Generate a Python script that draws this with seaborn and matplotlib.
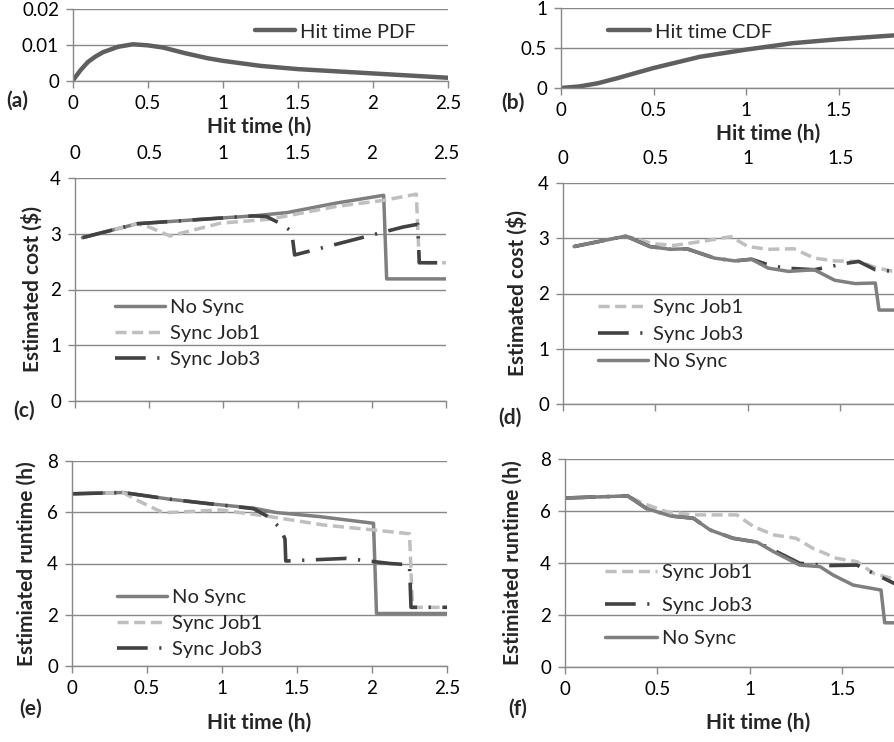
import matplotlib
matplotlib.use("Agg")
import matplotlib.pyplot as plt
import seaborn as sns
import pandas as pd
from matplotlib.ticker import FuncFormatter

# ---------------- data ----------------
pdf_x = [0, 0.05, 0.1, 0.15, 0.2, 0.3, 0.4, 0.5, 0.6, 0.75, 0.9, 1.0, 1.25, 1.5, 1.75, 2.0, 2.25, 2.5]
pdf_y = [0.0002, 0.003, 0.0053, 0.0068, 0.0080, 0.0095, 0.0102, 0.0099, 0.0093, 0.0077, 0.0063,
         0.0056, 0.0042, 0.0033, 0.0027, 0.0021, 0.0015, 0.0009]

cdf_x = [0, 0.1, 0.2, 0.3, 0.5, 0.75, 1.0, 1.25, 1.5, 1.75, 2.0, 2.25, 2.5]
cdf_y = [0, 0.02, 0.06, 0.12, 0.25, 0.39, 0.48, 0.56, 0.61, 0.65, 0.69, 0.72, 0.75]

# (c) estimated cost, left
c_nosync_x = [0.05, 0.42, 0.86, 1.2, 1.43, 1.76, 2.08, 2.1, 2.5]
c_nosync_y = [2.93, 3.18, 3.26, 3.32, 3.38, 3.55, 3.69, 2.19, 2.19]
c_job1_x = [0.05, 0.42, 0.5, 0.64, 0.98, 1.31, 1.76, 2.08, 2.3, 2.32, 2.5]
c_job1_y = [2.93, 3.18, 3.12, 2.96, 3.19, 3.26, 3.49, 3.6, 3.71, 2.48, 2.48]
c_job3_x = [0.05, 0.42, 0.86, 1.2, 1.29, 1.4, 1.46, 1.48, 2.21, 2.31, 2.32, 2.5]
c_job3_y = [2.93, 3.18, 3.26, 3.32, 3.31, 3.16, 3.04, 2.62, 3.12, 3.17, 2.48, 2.48]

# (d) estimated cost, right
d_nosync_x = [0.06, 0.34, 0.47, 0.58, 0.67, 0.82, 0.93, 1.02, 1.11, 1.22, 1.36, 1.47, 1.58, 1.69, 1.71, 2.5]
d_nosync_y = [2.85, 3.04, 2.85, 2.80, 2.81, 2.64, 2.59, 2.62, 2.46, 2.40, 2.43, 2.24, 2.18, 2.19, 1.70, 1.70]
d_job1_x = [0.06, 0.34, 0.49, 0.6, 0.745, 0.91, 1.0, 1.11, 1.25, 1.36, 1.47, 1.6, 1.7, 1.79, 1.9]
d_job1_y = [2.85, 3.04, 2.9, 2.87, 2.94, 3.03, 2.85, 2.8, 2.81, 2.64, 2.59, 2.58, 2.46, 2.40, 2.38]
d_job3_x = [0.06, 0.34, 0.47, 0.58, 0.67, 0.82, 0.93, 1.02, 1.11, 1.2, 1.36, 1.45, 1.54, 1.6, 1.69, 1.79, 1.9]
d_job3_y = [2.85, 3.04, 2.85, 2.80, 2.81, 2.64, 2.59, 2.62, 2.52, 2.46, 2.43, 2.49, 2.55, 2.58, 2.43, 2.40, 2.38]

# (e) estimated runtime, left
e_nosync_x = [0, 0.34, 0.65, 0.92, 1.21, 1.36, 1.65, 2.01, 2.03, 2.5]
e_nosync_y = [6.72, 6.77, 6.51, 6.33, 6.16, 5.99, 5.83, 5.57, 2.05, 2.05]
e_job1_x = [0, 0.34, 0.43, 0.59, 0.65, 0.99, 1.32, 1.68, 2.01, 2.25, 2.27, 2.5]
e_job1_y = [6.72, 6.77, 6.48, 6.03, 5.99, 6.09, 5.83, 5.5, 5.31, 5.16, 2.29, 2.29]
e_job3_x = [0, 0.34, 0.65, 0.92, 1.21, 1.3, 1.39, 1.42, 1.425, 1.44, 1.83, 2.12, 2.25, 2.26, 2.5]
e_job3_y = [6.72, 6.77, 6.51, 6.33, 6.14, 5.85, 5.38, 4.95, 4.1, 4.1, 4.2, 4.0, 3.95, 2.29, 2.29]

# (f) estimated runtime, right
f_nosync_x = [0, 0.34, 0.44, 0.57, 0.695, 0.785, 0.91, 1.04, 1.13, 1.27, 1.38, 1.45, 1.56, 1.71, 1.73, 2.5]
f_nosync_y = [6.5, 6.58, 6.1, 5.81, 5.72, 5.27, 4.95, 4.8, 4.43, 3.92, 3.86, 3.54, 3.15, 2.96, 1.7, 1.7]
f_job1_x = [0, 0.34, 0.42, 0.55, 0.695, 0.93, 1.02, 1.13, 1.25, 1.34, 1.47, 1.58, 1.67, 1.78, 1.9]
f_job1_y = [6.5, 6.58, 6.3, 5.97, 5.85, 5.85, 5.4, 5.08, 4.95, 4.57, 4.18, 4.05, 3.6, 3.38, 3.1]
f_job3_x = [0, 0.34, 0.44, 0.57, 0.695, 0.785, 0.91, 1.04, 1.09, 1.2, 1.27, 1.42, 1.58, 1.65, 1.78, 1.9]
f_job3_y = [6.5, 6.58, 6.1, 5.81, 5.72, 5.27, 4.95, 4.8, 4.63, 4.24, 3.99, 3.9, 3.92, 3.67, 3.22, 2.95]

x_ticks = [0, 0.5, 1, 1.5, 2, 2.5]

# ---------------- style ----------------
sns.set_style("white")
plt.rcParams['font.family'] = ['Lato', 'DejaVu Sans']

W, H = 895, 742
fig = plt.figure(figsize=(W / 100, H / 100), dpi=100)

GRID = '#888888'
C_NO = '#7f7f7f'
C_J1 = '#bfbfbf'
C_J3 = '#424242'
TICK_FS = 13.5
LEG_FS = 14.5
LAB_FS = 15

def px_axes(l, t, r, b):
    return fig.add_axes([l / W, 1 - b / H, (r - l) / W, (b - t) / H])

def style_axes(ax, yticks, label_top_px=None):
    ax.set_xlim(0, 2.5)
    ax.set_ylim(yticks[0], yticks[-1])
    ax.set_xticks(x_ticks)
    ax.set_yticks(yticks)
    ax.xaxis.set_major_formatter(FuncFormatter(lambda v, p: '%g' % v))
    ax.yaxis.set_major_formatter(FuncFormatter(lambda v, p: '%g' % v))
    for s in ['top', 'right']:
        ax.spines[s].set_visible(False)
    for s in ['left', 'bottom']:
        ax.spines[s].set_color(GRID)
        ax.spines[s].set_linewidth(1.0)
    ax.grid(axis='y', color=GRID, linewidth=1.0)
    ax.grid(axis='x', visible=False)
    ax.set_axisbelow(True)
    ax.tick_params(axis='both', direction='out', length=5, width=1.0, color=GRID,
                   labelsize=TICK_FS, labelcolor='black', left=True, bottom=True)
    ax.tick_params(axis='y', pad=5)
    if label_top_px is not None:
        bb = ax.get_position()
        top_px = (1 - bb.y1) * H
        pad_pt = (top_px - label_top_px - 16) * 0.72
        ax.tick_params(axis='x', labelbottom=False, labeltop=True, top=False,
                       bottom=True, pad=pad_pt)
    else:
        ax.tick_params(axis='x', pad=5)
    ax.set_xlabel('')
    ax.set_ylabel('')

def draw(ax, xs, ys, color, lw, ls, label):
    df = pd.DataFrame({'x': xs, 'y': ys})
    sns.lineplot(data=df, x='x', y='y', ax=ax, color=color, linewidth=lw, linestyle=ls,
                 estimator=None, sort=False, label=label)

LS_SOLID = '-'
LS_J1 = (0, (3.2, 1.6))
LS_J3 = (0, (8.5, 3.2, 0.6, 3.2))

def leg(ax, order, x_left_px, y_center_px, handle_px, spacing):
    h, l = ax.get_legend_handles_labels()
    d = dict(zip(l, h))
    bb = ax.get_position()
    ax_l = bb.x0 * W; ax_r = bb.x1 * W
    ax_t = (1 - bb.y1) * H; ax_b = (1 - bb.y0) * H
    fxp = (x_left_px - ax_l) / (ax_r - ax_l)
    fyp = (ax_b - y_center_px) / (ax_b - ax_t)
    ax.legend([d[k] for k in order], order, loc='center left',
              bbox_to_anchor=(fxp, fyp), frameon=False, borderpad=0, borderaxespad=0,
              fontsize=LEG_FS, handlelength=handle_px / (LEG_FS * 100 / 72),
              handletextpad=0.25, labelspacing=spacing)

def ftext(xp, yp, s, **kw):
    fig.text(xp / W, 1 - yp / H, s, **kw)

# (a)
axa = px_axes(73, 9, 448, 81)
draw(axa, pdf_x, pdf_y, '#5f5f5f', 3.2, LS_SOLID, 'Hit time PDF')
style_axes(axa, [0, 0.01, 0.02])
leg(axa, ['Hit time PDF'], 255, 32, 40, 0.5)

# (b)
axb = px_axes(561, 8, 1024, 88)
draw(axb, cdf_x, cdf_y, '#5f5f5f', 3.2, LS_SOLID, 'Hit time CDF')
style_axes(axb, [0, 0.5, 1])
leg(axb, ['Hit time CDF'], 608, 32, 42, 0.5)

# (c)
axc = px_axes(75, 178, 446, 401)
draw(axc, c_nosync_x, c_nosync_y, C_NO, 2.5, LS_SOLID, 'No Sync')
draw(axc, c_job1_x, c_job1_y, C_J1, 2.5, LS_J1, 'Sync Job1')
draw(axc, c_job3_x, c_job3_y, C_J3, 2.6, LS_J3, 'Sync Job3')
style_axes(axc, [0, 1, 2, 3, 4], label_top_px=153)
leg(axc, ['No Sync', 'Sync Job1', 'Sync Job3'], 115, 333.5, 50, 0.45)

# (d)
axd = px_axes(563, 183, 1025, 404)
draw(axd, d_job1_x, d_job1_y, C_J1, 2.5, LS_J1, 'Sync Job1')
draw(axd, d_job3_x, d_job3_y, C_J3, 2.6, LS_J3, 'Sync Job3')
draw(axd, d_nosync_x, d_nosync_y, C_NO, 2.5, LS_SOLID, 'No Sync')
style_axes(axd, [0, 1, 2, 3, 4], label_top_px=158)
leg(axd, ['Sync Job1', 'Sync Job3', 'No Sync'], 598, 334.5, 50, 0.5)

# (e)
axe = px_axes(72, 461, 447, 666)
draw(axe, e_nosync_x, e_nosync_y, C_NO, 2.5, LS_SOLID, 'No Sync')
draw(axe, e_job1_x, e_job1_y, C_J1, 2.5, LS_J1, 'Sync Job1')
draw(axe, e_job3_x, e_job3_y, C_J3, 2.6, LS_J3, 'Sync Job3')
style_axes(axe, [0, 2, 4, 6, 8])
leg(axe, ['No Sync', 'Sync Job1', 'Sync Job3'], 117, 623.5, 50, 0.45)

# (f)
axf = px_axes(565, 459, 1027, 667)
draw(axf, f_job1_x, f_job1_y, C_J1, 2.5, LS_J1, 'Sync Job1')
draw(axf, f_job3_x, f_job3_y, C_J3, 2.6, LS_J3, 'Sync Job3')
draw(axf, f_nosync_x, f_nosync_y, C_NO, 2.5, LS_SOLID, 'No Sync')
style_axes(axf, [0, 2, 4, 6, 8])
leg(axf, ['Sync Job1', 'Sync Job3', 'No Sync'], 605, 605.5, 52, 0.8)

# axis titles
bold = dict(fontsize=LAB_FS, fontweight='bold', ha='center', va='center')
ftext(259, 127, 'Hit time (h)', **bold)
ftext(768, 134, 'Hit time (h)', **bold)
ftext(259, 723, 'Hit time (h)', **bold)
ftext(758, 723, 'Hit time (h)', **bold)
ftext(32, 289.5, 'Estimated cost ($)', rotation=90, **bold)
ftext(517, 293.5, 'Estimated cost ($)', rotation=90, **bold)
ftext(27, 563.5, 'Estimiated runtime (h)', rotation=90, **bold)
ftext(513, 563, 'Estimiated runtime (h)', rotation=90, **bold)

# panel letters
ftext(17, 101, '(a)', **bold)
ftext(513, 103, '(b)', **bold)
ftext(24, 411, '(c)', **bold)
ftext(510, 418, '(d)', **bold)
ftext(31, 709, '(e)', **bold)
ftext(518, 709, '(f)', **bold)

fig.savefig('out.png', dpi=100)
